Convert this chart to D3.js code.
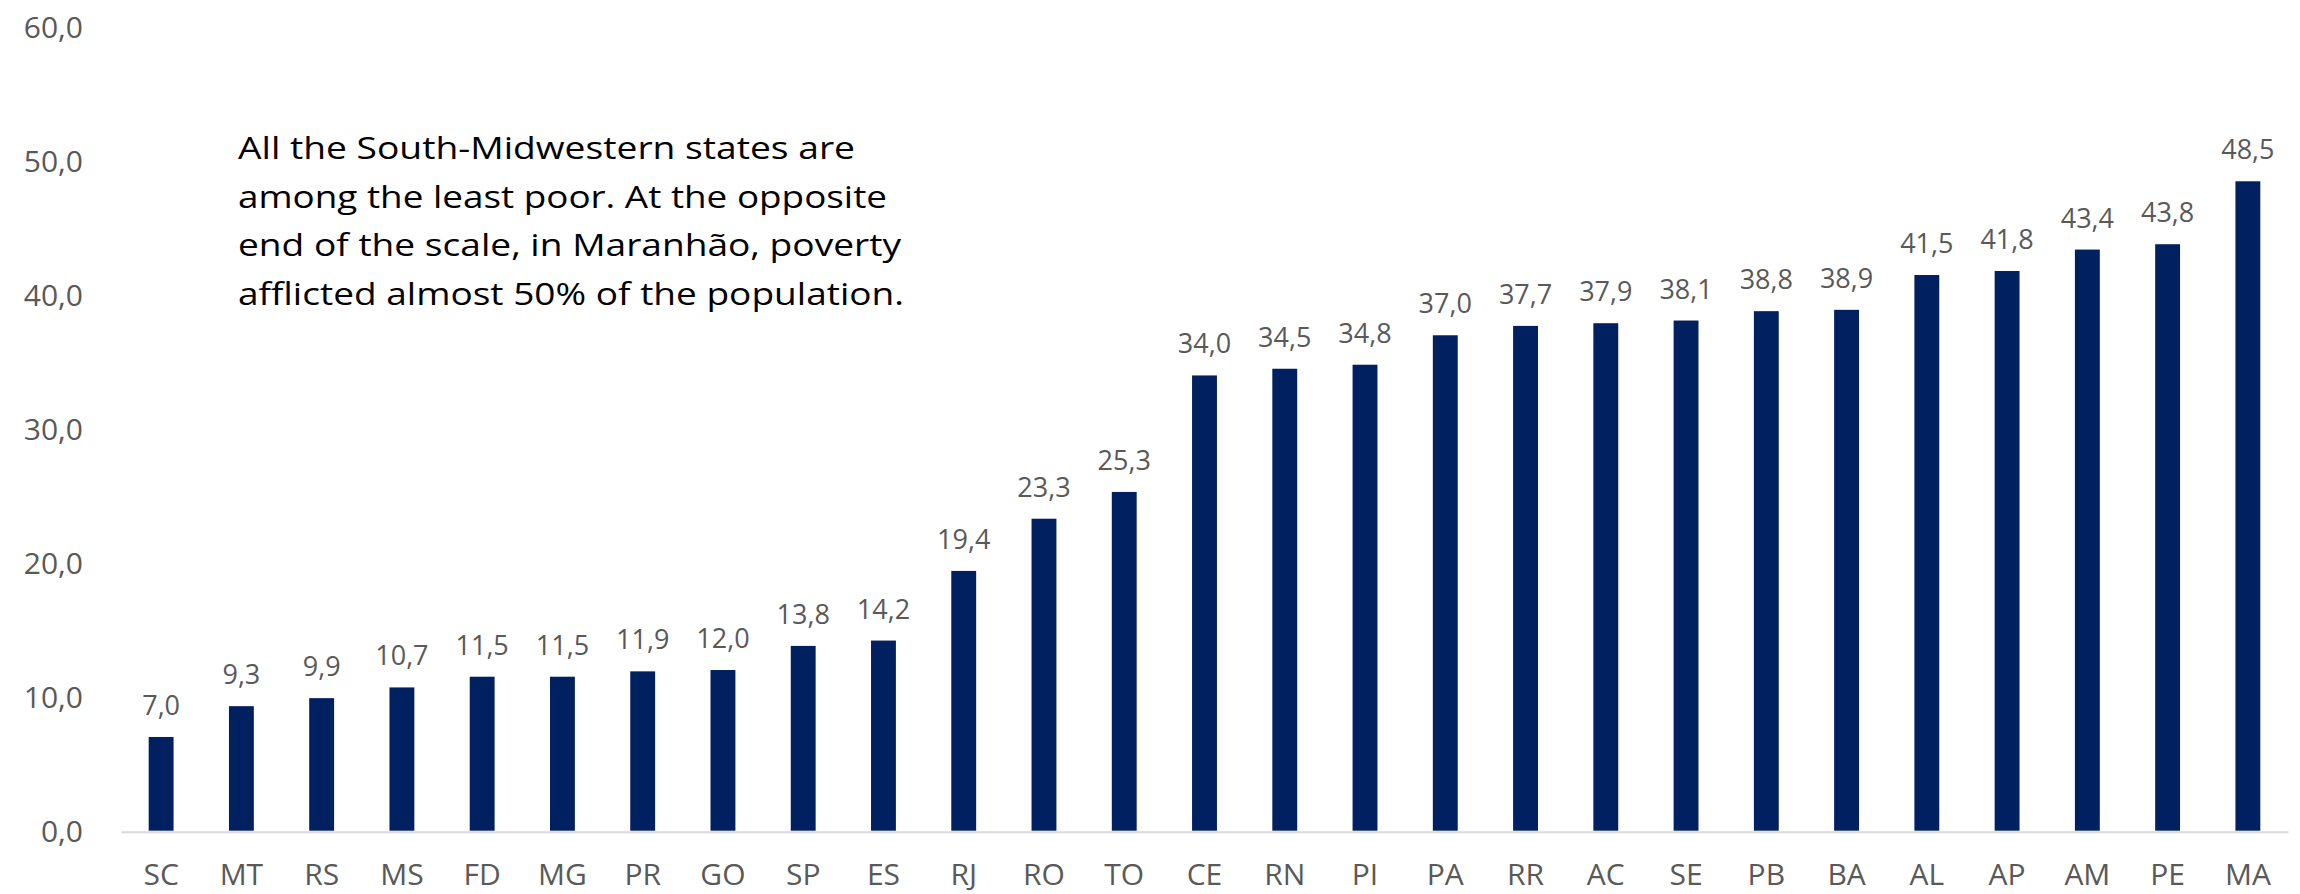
<!DOCTYPE html>
<html>
<head>
<meta charset="utf-8">
<script src="https://cdn.jsdelivr.net/npm/d3@7"></script>
<style>
  html, body { margin: 0; padding: 0; background: #fff; }
  svg { display: block; }
</style>
</head>
<body>
<svg id="chart" width="2300" height="894"></svg>
<script>
const categories = ["SC","MT","RS","MS","FD","MG","PR","GO","SP","ES","RJ","RO","TO","CE","RN","PI","PA","RR","AC","SE","PB","BA","AL","AP","AM","PE","MA"];
const values = [7.0,9.3,9.9,10.7,11.5,11.5,11.9,12.0,13.8,14.2,19.4,23.3,25.3,34.0,34.5,34.8,37.0,37.7,37.9,38.1,38.8,38.9,41.5,41.8,43.4,43.8,48.5];
const yTicks = [0,10,20,30,40,50,60];
const noteLines = [
  "All the South-Midwestern states are",
  "among the least poor. At the opposite",
  "end of the scale, in Maranhão, poverty",
  "afflicted almost 50% of the population."
];
const noteWidths = [617, 649, 663, 666];

const svg = d3.select("#chart");
const numFont = "'Open Sans', 'Noto Sans', sans-serif";
const grey = "#595959";

const x = d3.scaleBand().domain(categories).range([121, 2288]).paddingInner(0.69).paddingOuter(0.345);
const y = d3.scaleLinear().domain([0, 60]).range([830.7, 27.3]);
const fmt = v => d3.format(".1f")(v).replace(".", ",");

// Y axis labels
const yAxis = d3.axisLeft(y).tickValues(yTicks).tickFormat(fmt).tickSize(0).tickPadding(0);
const gy = svg.append("g").attr("transform", "translate(83,0)").call(yAxis);
gy.select(".domain").remove();
gy.selectAll("text").attr("font-family", numFont).attr("font-size", 30).attr("fill", grey).attr("dy", "0.35em");

// Bars
svg.append("g").selectAll("rect").data(values).join("rect")
  .attr("x", (d, i) => x(categories[i]))
  .attr("y", d => y(d))
  .attr("width", x.bandwidth())
  .attr("height", d => y(0) - y(d))
  .attr("fill", "#002060");

// X axis
const xAxis = d3.axisBottom(x).tickSize(0).tickPadding(0);
const gx = svg.append("g").attr("transform", `translate(0,${y(0) + 1})`).call(xAxis);
gx.select(".domain").attr("stroke", "#d9d9d9").attr("stroke-width", 2);
gx.selectAll("text").attr("font-family", numFont).attr("font-size", 30).attr("fill", grey)
  .attr("y", 53).attr("dy", 0);

// Value labels
svg.append("g").selectAll("text").data(values).join("text")
  .attr("x", (d, i) => x(categories[i]) + x.bandwidth() / 2)
  .attr("y", d => y(d) - 22)
  .attr("text-anchor", "middle")
  .attr("font-family", numFont).attr("font-size", 27).attr("fill", grey)
  .text(fmt);

// Annotation
svg.append("g").selectAll("text").data(noteLines).join("text")
  .attr("x", 238)
  .attr("y", (d, i) => 159 + i * 48.6)
  .attr("font-family", "'Open Sans', 'Noto Sans', sans-serif")
  .attr("font-size", 31)
  .attr("fill", "#000")
  .attr("textLength", (d, i) => noteWidths[i])
  .attr("lengthAdjust", "spacingAndGlyphs")
  .text(d => d);
</script>
</body>
</html>
